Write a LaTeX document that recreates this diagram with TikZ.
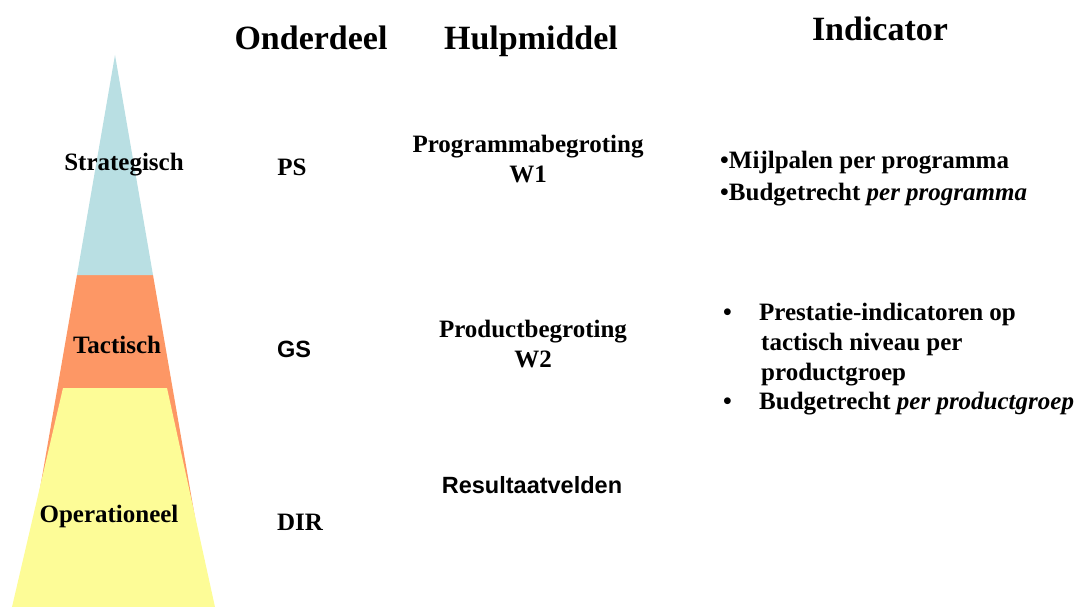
\documentclass[tikz,border=0pt]{standalone}
\usepackage{fontspec}
\setmainfont{Liberation Serif}
\setsansfont{Liberation Sans}
\definecolor{pblue}{HTML}{B9DFE3}
\definecolor{porange}{HTML}{FD9765}
\definecolor{pyellow}{HTML}{FDFC97}
\begin{document}
\begin{tikzpicture}[x=1pt,y=-1pt,
  head/.style={anchor=base,inner sep=0pt,font=\fontsize{34}{40}\selectfont\bfseries},
  lbl/.style={anchor=base,inner sep=0pt,font=\fontsize{25}{30}\selectfont\bfseries},
  slbl/.style={anchor=base,inner sep=0pt,font=\fontsize{23.5}{28}\selectfont\sffamily\bfseries},
  ind/.style={anchor=base west,inner sep=0pt,font=\fontsize{25}{30}\selectfont\bfseries}]
\useasboundingbox (0,0) rectangle (1081,607);
% pyramid
\fill[porange] (77,275) -- (153,275) -- (210.5,607) -- (19.5,607) -- cycle;
\fill[pblue] (115,55) -- (153,275) -- (77,275) -- cycle;
\fill[pyellow] (63,388) -- (167,388) -- (215,607) -- (12,607) -- cycle;
% headers
\node[head] (hon) at (311,50) {Onderdeel};
\node[head] (hhu) at (531,50) {Hulpmiddel};
\node[head] (hin) at (880,41) {Indicator};
% levels
\node[lbl] (strat) at (124,170) {Strategisch};
\node[lbl] (tact) at (117,353) {Tactisch};
\node[lbl] (oper) at (109,522) {Operationeel};
% onderdeel
\node[lbl] (ps) at (292,175) {PS};
\node[slbl] (gs) at (294,357) {GS};
\node[lbl] (dir) at (300,530) {DIR};
% hulpmiddel
\node[lbl] (pb) at (528,153) {Programmabegroting};
\node[lbl] (w1) at (528,182) {W1};
\node[lbl] (prb) at (533,337) {Productbegroting};
\node[lbl] (w2) at (533,367) {W2};
\node[slbl] (rv) at (532,493) {Resultaatvelden};
% indicator
\node[ind] (i1) at (720,168) {•Mijlpalen per programma};
\node[ind] (i2) at (720,200) {•Budgetrecht \textit{per programma}};
\node[ind] (b1) at (723,320) {•};
\node[ind] (i3) at (759,320) {Prestatie-indicatoren op};
\node[ind] (i4) at (761,350) {tactisch niveau per};
\node[ind] (i5) at (761,380) {productgroep};
\node[ind] (b2) at (723,409) {•};
\node[ind] (i6) at (759,409) {Budgetrecht \textit{per productgroep}};
\end{tikzpicture}
\end{document}
